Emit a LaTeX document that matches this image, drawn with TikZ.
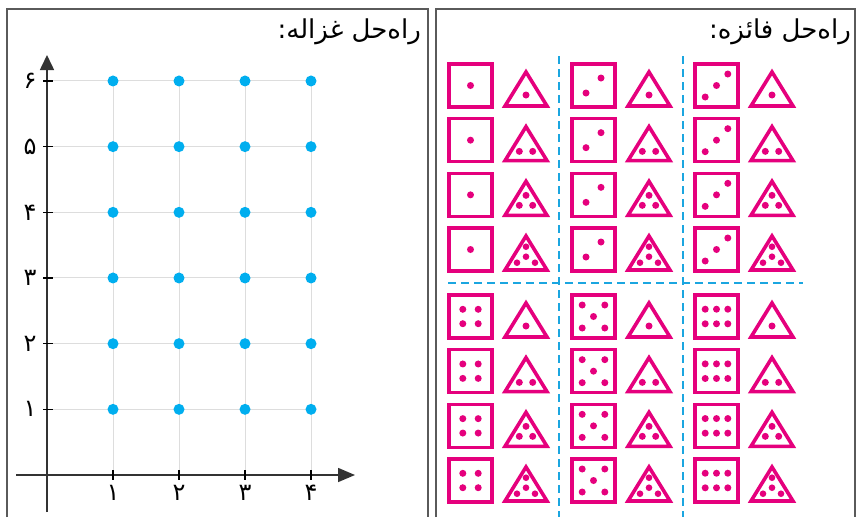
\documentclass[tikz,border=0pt]{standalone}
\usepackage{fontspec}
\usetikzlibrary{arrows.meta}
\TeXXeTstate=1
\newfontfamily\arabicfont[Script=Arabic]{DejaVu Sans}
\definecolor{mag}{HTML}{E5007D}
\definecolor{cy}{HTML}{00AEEF}
\definecolor{dashcy}{HTML}{1BA6E0}
\definecolor{framegray}{HTML}{5A5A5A}
\definecolor{gridgray}{HTML}{DDDDDD}
\definecolor{axisgray}{HTML}{333333}
\tikzset{
  frameline/.style={draw=framegray, line width=2pt},
  gridline/.style={draw=gridgray, line width=1pt},
  axisline/.style={draw=axisgray, line width=1.6pt},
  tickline/.style={draw=black, line width=1.4pt},
  gdot/.style={fill=cy},
  magline/.style={draw=mag, line width=3.6pt, line join=miter},
  mdot/.style={fill=mag},
  dashline/.style={draw=dashcy, line width=2.6pt, dash pattern=on 8pt off 5pt},
  digit/.style={font=\arabicfont\fontsize{24}{28}\selectfont, inner sep=0pt},
  title/.style={font=\arabicfont\fontsize{26}{30}\selectfont, inner sep=0pt, anchor=east}
}
\newcommand\dicedots[1]{%
  \ifcase#1\or
    \fill[mdot] (23.5,23.5) circle (3.5);
  \or
    \fill[mdot] (16,31) circle (3.5); \fill[mdot] (31,16) circle (3.5);
  \or
    \fill[mdot] (12.2,35) circle (3.5); \fill[mdot] (23.5,23.5) circle (3.5); \fill[mdot] (34.8,12) circle (3.5);
  \or
    \foreach \dx in {-7.7,7.7}{\foreach \dy in {-7.2,7.2}{\fill[mdot] (23.5+\dx,23.5+\dy) circle (3.5);}}
  \or
    \foreach \dx in {-11.3,11.3}{\foreach \dy in {-11.5,11.5}{\fill[mdot] (23.5+\dx,23.5+\dy) circle (3.5);}}
    \fill[mdot] (23.5,23.5) circle (3.5);
  \or
    \foreach \dx in {-11.3,0,11.3}{\foreach \dy in {-7.3,7.3}{\fill[mdot] (23.5+\dx,23.5+\dy) circle (3.5);}}
  \fi}
\newcommand\tridots[1]{%
  \ifcase#1\or
    \fill[mdot] (79,33) circle (3.5);
  \or
    \fill[mdot] (72.3,34.7) circle (3.5); \fill[mdot] (85.7,34.7) circle (3.5);
  \or
    \fill[mdot] (79,24) circle (3.5); \fill[mdot] (72.3,34) circle (3.5); \fill[mdot] (85.7,34) circle (3.5);
  \or
    \fill[mdot] (79,20.7) circle (3.3); \fill[mdot] (79,30.7) circle (3.3);
    \fill[mdot] (70,36.7) circle (3.3); \fill[mdot] (88,36.7) circle (3.3);
  \fi}
\newcommand\cellpair[4]{%
  \begin{scope}[shift={(#1,#2)}]
    \draw[magline] (2,2) rectangle (45,45);
    \dicedots{#3}
    \draw[magline] (79,10) -- (100,44) -- (58,44) -- cycle;
    \tridots{#4}
  \end{scope}}
\begin{document}
\begin{tikzpicture}[x=1pt,y=-1pt]
\useasboundingbox (0,0) rectangle (857,517);
\fill[white] (0,0) rectangle (857,517);
% frames
\draw[frameline] (7,517) -- (7,9) -- (428,9) -- (428,517);
\draw[frameline] (436,517) -- (436,9) -- (855,9) -- (855,517);
% titles
\node[title] (titleL) at (421,32) {\beginR راه‌حل غزاله:\endR};
\node[title] (titleR) at (851,32) {\beginR راه‌حل فائزه:\endR};
% grid
\foreach \i in {1,...,4} {\draw[gridline] (47+66*\i,81) -- (47+66*\i,475);}
\foreach \j in {1,...,6} {\draw[gridline] (47,475-65.67*\j) -- (311,475-65.67*\j);}
% axes
\coordinate (xs) at (16,475);
\coordinate (xe) at (355,475);
\coordinate (ys) at (47,512);
\coordinate (ye) at (47,55);
\draw[axisline, -{Triangle[length=17pt,width=14pt]}] (xs) -- (xe);
\draw[axisline, -{Triangle[length=15pt,width=14pt]}] (ys) -- (ye);
% ticks and labels
\foreach \j/\d in {1/۱,2/۲,3/۳,4/۴,5/۵,6/۶} {
  \draw[tickline] (43,475-65.67*\j) -- (53,475-65.67*\j);
  \node[digit] (yl\j) at (30,475-65.67*\j) {\d};
}
\foreach \i/\d in {1/۱,2/۲,3/۳,4/۴} {
  \draw[tickline] (47+66*\i,470) -- (47+66*\i,480);
  \node[digit] (xl\i) at (47+66*\i,493) {\d};
}
% dots
\foreach \i in {1,...,4} {\foreach \j in {1,...,6} {\fill[gdot] (47+66*\i,475-65.67*\j) circle (5.5);}}
% dashed separators
\coordinate (v1t) at (559,56); \coordinate (v1b) at (559,517);
\coordinate (v2t) at (683,56); \coordinate (v2b) at (683,517);
\coordinate (hl) at (448,283); \coordinate (hr) at (803,283);
\draw[dashline] (v1t) -- (v1b);
\draw[dashline] (v2t) -- (v2b);
\draw[dashline] (hl) -- (hr);
% dice cells
\foreach \c in {0,1,2} {
  \foreach \r in {0,1,2,3} {
    \pgfmathsetmacro\cx{447+123*\c}
    \pgfmathsetmacro\ty{62+54.67*\r}
    \pgfmathsetmacro\by{293+54.67*\r}
    \pgfmathtruncatemacro\dtop{\c+1}
    \pgfmathtruncatemacro\dbot{\c+4}
    \pgfmathtruncatemacro\tn{\r+1}
    \cellpair{\cx}{\ty}{\dtop}{\tn}
    \cellpair{\cx}{\by}{\dbot}{\tn}
  }
}
\end{tikzpicture}
\end{document}
